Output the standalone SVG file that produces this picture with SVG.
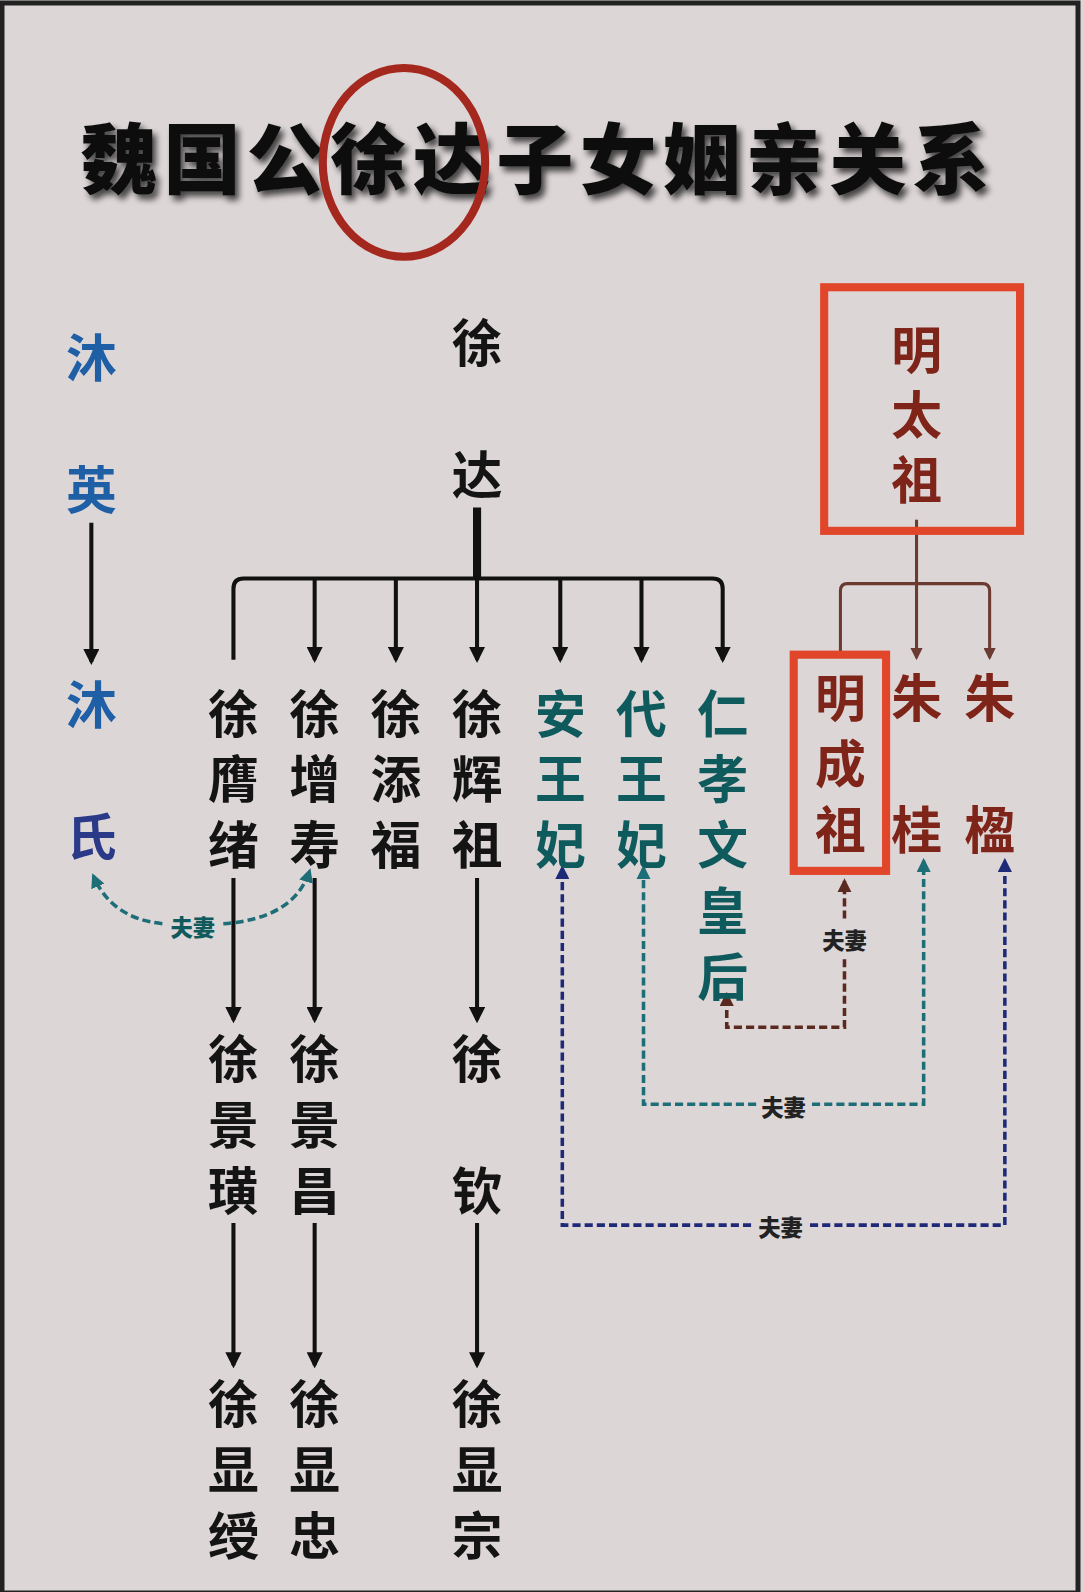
<svg xmlns="http://www.w3.org/2000/svg" width="1084" height="1592" viewBox="0 0 1084 1592">
<defs>
<style>
.t{font-family:"Noto Sans CJK SC",sans-serif;font-weight:700;font-size:50px;text-anchor:middle;dominant-baseline:central}
.k{fill:#141414}.g{fill:#0f5a5c}.b{fill:#1f5fa6}.p{fill:#2b3a88}.r{fill:#7e2418}
.lb{font-family:"Noto Sans CJK SC",sans-serif;font-weight:900;font-size:22px;text-anchor:middle;dominant-baseline:central}
.ln{fill:none;stroke:#111;stroke-width:4}
.br{fill:none;stroke:#6b3a30;stroke-width:3}
.d{fill:none;stroke-width:3.5;stroke-dasharray:8 4}
</style>
<marker id="a" viewBox="0 0 10 10" refX="8" refY="5" markerWidth="4" markerHeight="4" orient="auto"><path d="M0,0L10,5L0,10z" fill="#111"/></marker>
<marker id="ab" viewBox="0 0 10 10" refX="8" refY="5" markerWidth="4" markerHeight="4" orient="auto"><path d="M0,0L10,5L0,10z" fill="#6b3a30"/></marker>
<marker id="ag" viewBox="0 0 10 10" refX="8" refY="5" markerWidth="4" markerHeight="4" orient="auto"><path d="M0,0L10,5L0,10z" fill="#1e6e78"/></marker>
<marker id="an" viewBox="0 0 10 10" refX="8" refY="5" markerWidth="4" markerHeight="4" orient="auto"><path d="M0,0L10,5L0,10z" fill="#1e2a78"/></marker>
<marker id="ar" viewBox="0 0 10 10" refX="8" refY="5" markerWidth="4" markerHeight="4" orient="auto"><path d="M0,0L10,5L0,10z" fill="#5a2a20"/></marker>
<filter id="sh" x="-10%" y="-30%" width="120%" height="160%"><feGaussianBlur in="SourceAlpha" stdDeviation="3"/><feOffset dx="4" dy="5"/><feComponentTransfer><feFuncA type="linear" slope="0.7"/></feComponentTransfer><feMerge><feMergeNode/><feMergeNode in="SourceGraphic"/></feMerge></filter>
</defs>
<rect width="1084" height="1592" fill="#ddd6d7"/>
<rect x="2" y="3" width="1076" height="1590" fill="none" stroke="#222" stroke-width="5"/>
<g transform="scale(1.015)">
<g id="title"><text x="530" y="152" filter="url(#sh)" style="font-family:'Noto Sans CJK SC',sans-serif;font-weight:900;font-size:76px;text-anchor:middle;dominant-baseline:central;letter-spacing:6px" fill="#111">魏国公徐达子女姻亲关系</text>
<ellipse cx="398" cy="160" rx="80" ry="93" fill="none" stroke="#a5281f" stroke-width="8"/></g>

<g id="connectors">
<path class="ln" d="M90 515V652" marker-end="url(#a)"/>
<path d="M470 500V570" stroke="#111" stroke-width="8"/>
<path class="ln" d="M230 650V580Q230 570 240 570H702Q712 570 712 580V650" marker-end="url(#a)"/>
<path class="ln" d="M310 570V650" marker-end="url(#a)"/>
<path class="ln" d="M390 570V650" marker-end="url(#a)"/>
<path class="ln" d="M470 570V650" marker-end="url(#a)"/>
<path class="ln" d="M552 570V650" marker-end="url(#a)"/>
<path class="ln" d="M632 570V650" marker-end="url(#a)"/>
<path class="br" d="M903 512V648" marker-end="url(#ab)"/>
<path class="br" d="M828 648V582Q828 575 835 575H968Q975 575 975 582V648" marker-end="url(#ab)"/>
<path class="ln" d="M230 865V1005" marker-end="url(#a)"/>
<path class="ln" d="M310 865V1005" marker-end="url(#a)"/>
<path class="ln" d="M470 865V1005" marker-end="url(#a)"/>
<path class="ln" d="M230 1205V1345" marker-end="url(#a)"/>
<path class="ln" d="M310 1205V1345" marker-end="url(#a)"/>
<path class="ln" d="M470 1205V1345" marker-end="url(#a)"/>
<path class="d" stroke="#1e6e78" d="M160 910Q110 905 92 863" marker-end="url(#ag)"/>
<path class="d" stroke="#1e6e78" d="M220 910Q290 905 305 858" marker-end="url(#ag)"/>
<path class="d" stroke="#5a2a20" stroke-width="3" d="M832 905V868" marker-end="url(#ar)"/>
<path class="d" stroke="#5a2a20" d="M832 945V1012H716V980" marker-end="url(#ar)"/>
<path class="d" stroke="#1e6e78" d="M745 1088H634V855" marker-end="url(#ag)"/>
<path class="d" stroke="#1e6e78" d="M800 1088H910V848" marker-end="url(#ag)"/>
<path class="d" stroke="#1e2a78" d="M740 1207H554V855" marker-end="url(#an)"/>
<path class="d" stroke="#1e2a78" d="M798 1207H990V848" marker-end="url(#an)"/>
<text class="lb" x="190" y="912" fill="#0f5a5c">夫妻</text>
<text class="lb" x="832" y="925" fill="#222">夫妻</text>
<text class="lb" x="772" y="1090" fill="#222">夫妻</text>
<text class="lb" x="769" y="1208" fill="#222">夫妻</text>
</g>

<g id="muying"><text class="t b" x="90" y="350">沐</text><text class="t b" x="90" y="480">英</text></g>
<g id="mushi"><text class="t b" x="90" y="692">沐</text><text class="t p" x="90" y="822">氏</text></g>
<g id="xuda"><text class="t k" x="470" y="335">徐</text><text class="t k" x="470" y="465">达</text></g>
<g id="xuyingxu"><text class="t k" x="230" y="700">徐</text><text class="t k" x="230" y="765">膺</text><text class="t k" x="230" y="830">绪</text></g>
<g id="xuzengshou"><text class="t k" x="310" y="700">徐</text><text class="t k" x="310" y="765">增</text><text class="t k" x="310" y="830">寿</text></g>
<g id="xutianfu"><text class="t k" x="390" y="700">徐</text><text class="t k" x="390" y="765">添</text><text class="t k" x="390" y="830">福</text></g>
<g id="xuhuizu"><text class="t k" x="470" y="700">徐</text><text class="t k" x="470" y="765">辉</text><text class="t k" x="470" y="830">祖</text></g>
<g id="anwangfei"><text class="t g" x="552" y="700">安</text><text class="t g" x="552" y="765">王</text><text class="t g" x="552" y="830">妃</text></g>
<g id="daiwangfei"><text class="t g" x="632" y="700">代</text><text class="t g" x="632" y="765">王</text><text class="t g" x="632" y="830">妃</text></g>
<g id="renxiao"><text class="t g" x="712" y="700">仁</text><text class="t g" x="712" y="765">孝</text><text class="t g" x="712" y="830">文</text><text class="t g" x="712" y="895">皇</text><text class="t g" x="712" y="960">后</text></g>
<g id="mingtaizu"><rect x="812" y="283" width="193" height="240" fill="none" stroke="#e2462a" stroke-width="8"/><text class="t r" x="903" y="342">明</text><text class="t r" x="903" y="406">太</text><text class="t r" x="903" y="470">祖</text></g>
<g id="mingchengzu"><rect x="782" y="645" width="91" height="213" fill="none" stroke="#e2462a" stroke-width="8"/><text class="t r" x="828" y="685">明</text><text class="t r" x="828" y="750">成</text><text class="t r" x="828" y="815">祖</text></g>
<g id="zhugui"><text class="t r" x="903" y="685">朱</text><text class="t r" x="903" y="815">桂</text></g>
<g id="zhuhui"><text class="t r" x="975" y="685">朱</text><text class="t r" x="975" y="815">楹</text></g>
<g id="xujinghuang"><text class="t k" x="230" y="1040">徐</text><text class="t k" x="230" y="1105">景</text><text class="t k" x="230" y="1170">璜</text></g>
<g id="xujingchang"><text class="t k" x="310" y="1040">徐</text><text class="t k" x="310" y="1105">景</text><text class="t k" x="310" y="1170">昌</text></g>
<g id="xuqin"><text class="t k" x="470" y="1040">徐</text><text class="t k" x="470" y="1170">钦</text></g>
<g id="xuxianshou"><text class="t k" x="230" y="1380">徐</text><text class="t k" x="230" y="1445">显</text><text class="t k" x="230" y="1510">绶</text></g>
<g id="xuxianzhong"><text class="t k" x="310" y="1380">徐</text><text class="t k" x="310" y="1445">显</text><text class="t k" x="310" y="1510">忠</text></g>
<g id="xuxianzong"><text class="t k" x="470" y="1380">徐</text><text class="t k" x="470" y="1445">显</text><text class="t k" x="470" y="1510">宗</text></g>
</g>
</svg>
